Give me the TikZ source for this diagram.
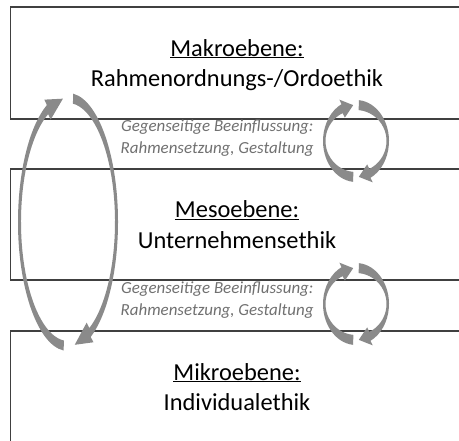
\documentclass[tikz,border=0pt]{standalone}
\usepackage{fontspec}
\setmainfont{Carlito}
\usepackage{tikz}
\usetikzlibrary{calc}

\definecolor{framegray}{RGB}{64,64,64}
\definecolor{arrowgray}{RGB}{138,138,138}
\definecolor{notegray}{RGB}{112,112,112}

% radii of the band: outer x/y, inner x/y, half width of the head
\newcommand{\ringsize}[5]{\def\rxo{#1}\def\ryo{#2}\def\rxi{#3}\def\ryi{#4}\def\hw{#5}}
% one curved band arrow: centre, tail angle, head angle, tip angle
\newcommand{\ringpiece}[4]{%
  \pgfmathsetmacro\rxa{\rxo+\hw}\pgfmathsetmacro\rya{\ryo+\hw}%
  \pgfmathsetmacro\rxb{\rxi-\hw}\pgfmathsetmacro\ryb{\ryi-\hw}%
  \pgfmathsetmacro\rxm{(\rxo+\rxi)/2}\pgfmathsetmacro\rym{(\ryo+\ryi)/2}%
  \fill[arrowgray] ($(#1)+({\rxo*cos(#2)},{\ryo*sin(#2)})$)
    arc[start angle=#2, end angle=#3, x radius=\rxo, y radius=\ryo]
    -- ($(#1)+({\rxa*cos(#3)},{\rya*sin(#3)})$)
    -- ($(#1)+({\rxm*cos(#4)},{\rym*sin(#4)})$)
    -- ($(#1)+({\rxb*cos(#3)},{\ryb*sin(#3)})$)
    -- ($(#1)+({\rxi*cos(#3)},{\ryi*sin(#3)})$)
    arc[start angle=#3, end angle=#2, x radius=\rxi, y radius=\ryi] -- cycle;}

\begin{document}
\begin{tikzpicture}[x=1bp, y=1bp,
  level/.style={draw=framegray, line width=1.8bp, minimum width=453bp, minimum height=112bp,
    align=center, text depth=0pt, font=\fontsize{24.5}{31}\selectfont},
  note/.style={align=right, text=notegray, font=\fontsize{17}{22.5}\selectfont\itshape}]
  \useasboundingbox (0,0) rectangle (459,441);
  \clip (0,0) rectangle (459,441);

  % the three levels
  \node[level] (makro) at (237,378) {\underline{Makroebene:}\\Rahmenordnungs-/Ordoethik};
  \node[level, minimum height=111bp] (meso) at (237,216.5) {\underline{Mesoebene:}\\Unternehmensethik};
  \node[level] (mikro) at (237,54) {\underline{Mikroebene:}\\Individualethik};

  % notes between the levels
  \node[note, anchor=east] (noteup) at (317,303) {Gegenseitige Beeinflussung:\\Rahmensetzung, Gestaltung};
  \node[note, anchor=east] (notelow) at (317,141) {Gegenseitige Beeinflussung:\\Rahmensetzung, Gestaltung};

  % circular arrows
  \coordinate (ringup) at (356,300);
  \coordinate (ringlow) at (356,137);
  \coordinate (ringall) at (68,219);
  \ringsize{33}{41}{30.5}{31}{5}
  \ringpiece{ringup}{265}{116}{95}
  \ringpiece{ringup}{85}{-64}{-85}
  \ringpiece{ringlow}{265}{116}{95}
  \ringpiece{ringlow}{85}{-64}{-85}
  \ringsize{50}{129}{47}{119}{6}
  \ringpiece{ringall}{265}{115}{96}
  \ringpiece{ringall}{84}{-63}{-82}
\end{tikzpicture}
\end{document}
